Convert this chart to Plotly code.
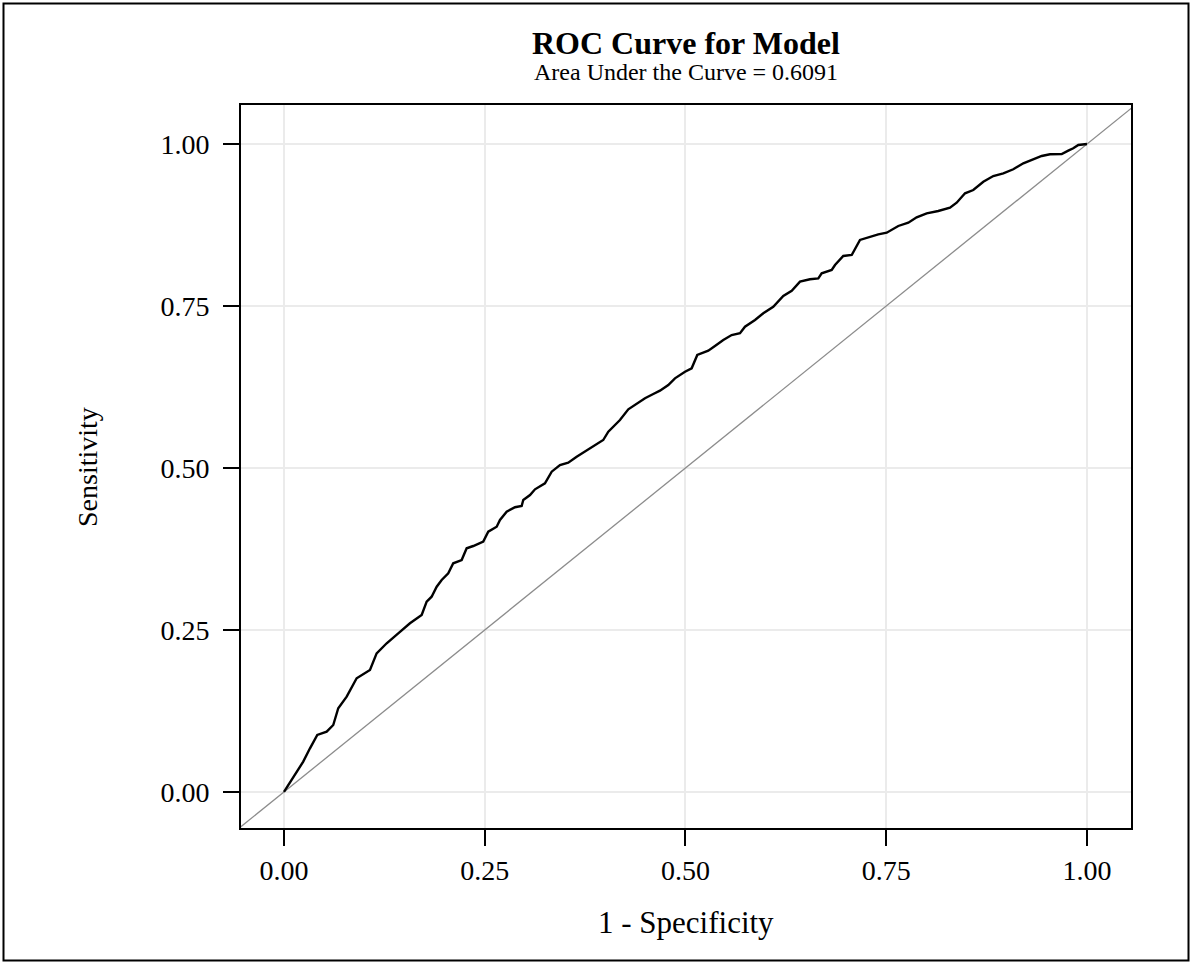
import plotly.graph_objects as go

# ROC curve points (1 - specificity, sensitivity)
fpr = [0.0, 0.0096, 0.0158, 0.0240, 0.0324, 0.0415, 0.0532, 0.0614, 0.0676, 0.0781,
       0.0905, 0.1071, 0.1154, 0.1279, 0.1423, 0.1569, 0.1715, 0.1777, 0.1839, 0.1902,
       0.1964, 0.2046, 0.2108, 0.2213, 0.2275, 0.2357, 0.2482, 0.2544, 0.2649, 0.2690,
       0.2773, 0.2877, 0.2960, 0.2980, 0.3064, 0.3126, 0.3250, 0.3334, 0.3437, 0.3540,
       0.3645, 0.3727, 0.3852, 0.3976, 0.4039, 0.4101, 0.4184, 0.4288, 0.4392, 0.4496,
       0.4599, 0.4682, 0.4786, 0.4869, 0.4994, 0.5077, 0.5147, 0.5284, 0.5367, 0.5471,
       0.5575, 0.5679, 0.5741, 0.5866, 0.5969, 0.6093, 0.6218, 0.6323, 0.6426, 0.6550,
       0.6654, 0.6696, 0.6821, 0.6862, 0.6965, 0.7070, 0.7173, 0.7298, 0.7401, 0.7506,
       0.7650, 0.7775, 0.7879, 0.8004, 0.8148, 0.8294, 0.8377, 0.8481, 0.8584, 0.8709,
       0.8833, 0.8958, 0.9082, 0.9207, 0.9331, 0.9436, 0.9539, 0.9685, 0.9767, 0.9829,
       0.9892, 0.9954, 1.0]
tpr = [0.0, 0.0185, 0.0313, 0.0468, 0.0674, 0.0880, 0.0931, 0.1034, 0.1292, 0.1471,
       0.1755, 0.1883, 0.2140, 0.2295, 0.2449, 0.2603, 0.2731, 0.2937, 0.3014, 0.3168,
       0.3272, 0.3375, 0.3529, 0.3580, 0.3761, 0.3796, 0.3863, 0.4017, 0.4094, 0.4198,
       0.4326, 0.4394, 0.4414, 0.4506, 0.4583, 0.4671, 0.4764, 0.4943, 0.5046, 0.5082,
       0.5174, 0.5236, 0.5329, 0.5432, 0.5560, 0.5637, 0.5741, 0.5906, 0.5998, 0.6076,
       0.6142, 0.6193, 0.6281, 0.6384, 0.6486, 0.6539, 0.6744, 0.6810, 0.6883, 0.6975,
       0.7052, 0.7079, 0.7181, 0.7284, 0.7387, 0.7489, 0.7654, 0.7736, 0.7875, 0.7912,
       0.7927, 0.8005, 0.8056, 0.8133, 0.8272, 0.8287, 0.8519, 0.8569, 0.8606, 0.8631,
       0.8735, 0.8786, 0.8869, 0.8930, 0.8966, 0.9017, 0.9094, 0.9239, 0.9290, 0.9418,
       0.9506, 0.9548, 0.9610, 0.9702, 0.9764, 0.9815, 0.9841, 0.9846, 0.9897, 0.9934,
       0.9985, 1.0, 1.0]

diag = [-0.1, 1.1]
tick_vals = [0.0, 0.25, 0.5, 0.75, 1.0]
tick_text = ["0.00", "0.25", "0.50", "0.75", "1.00"]
title_text = "ROC Curve for Model"
subtitle_text = "Area Under the Curve = 0.6091"
x_title = "1 - Specificity"
y_title = "Sensitivity"

FONT = "Liberation Serif, Times New Roman, serif"
W, H = 1190, 962
L, R, T, B = 241, 59, 105, 134
PW, PH = W - L - R, H - T - B

def px(x):
    return (x - L) / PW

def py(y):
    return (H - B - y) / PH

fig = go.Figure()
fig.add_trace(go.Scatter(x=diag, y=diag, mode="lines",
                         line=dict(color="#8c8c8c", width=1.3),
                         showlegend=False, hoverinfo="skip"))
fig.add_trace(go.Scatter(x=fpr, y=tpr, mode="lines",
                         line=dict(color="black", width=2.4),
                         showlegend=False))

axis_common = dict(
    tickvals=tick_vals, ticktext=tick_text,
    showgrid=True, gridcolor="#ebebeb", gridwidth=2,
    zeroline=False, showline=True, linecolor="black", linewidth=2,
    mirror=True, ticks="outside", ticklen=16, tickwidth=2, tickcolor="black",
    tickfont=dict(family=FONT, size=28, color="black"),
)
fig.update_xaxes(range=[-0.0535, 1.0548], ticklabelstandoff=0, **axis_common)
fig.update_yaxes(range=[-0.0556, 1.0602], ticklabelstandoff=8, **axis_common)

fig.add_annotation(text="<b>" + title_text + "</b>", xref="paper", yref="paper",
                   x=0.5, y=py(43), xanchor="center", yanchor="middle",
                   showarrow=False, font=dict(family=FONT, size=32, color="black"))
fig.add_annotation(text=subtitle_text, xref="paper", yref="paper",
                   x=0.5, y=py(72), xanchor="center", yanchor="middle",
                   showarrow=False, font=dict(family=FONT, size=24, color="black"))
fig.add_annotation(text=x_title, xref="paper", yref="paper",
                   x=0.5, y=py(922), xanchor="center", yanchor="middle",
                   showarrow=False, font=dict(family=FONT, size=31, color="black"))
fig.add_annotation(text=y_title, xref="paper", yref="paper",
                   x=px(87), y=py(467), xanchor="center", yanchor="middle",
                   textangle=-90,
                   showarrow=False, font=dict(family=FONT, size=28, color="black"))

fig.add_shape(type="rect", xref="paper", yref="paper",
              x0=px(3.5), x1=px(1188.5), y0=py(960.5), y1=py(3.5),
              line=dict(color="black", width=2), layer="above")

fig.update_layout(
    width=W, height=H,
    margin=dict(l=L, r=R, t=T, b=B),
    paper_bgcolor="white", plot_bgcolor="white",
    showlegend=False,
)

fig.write_html("out.html", config={"displayModeBar": False},
               post_script="document.body.style.margin='0';document.body.style.overflow='hidden';")
